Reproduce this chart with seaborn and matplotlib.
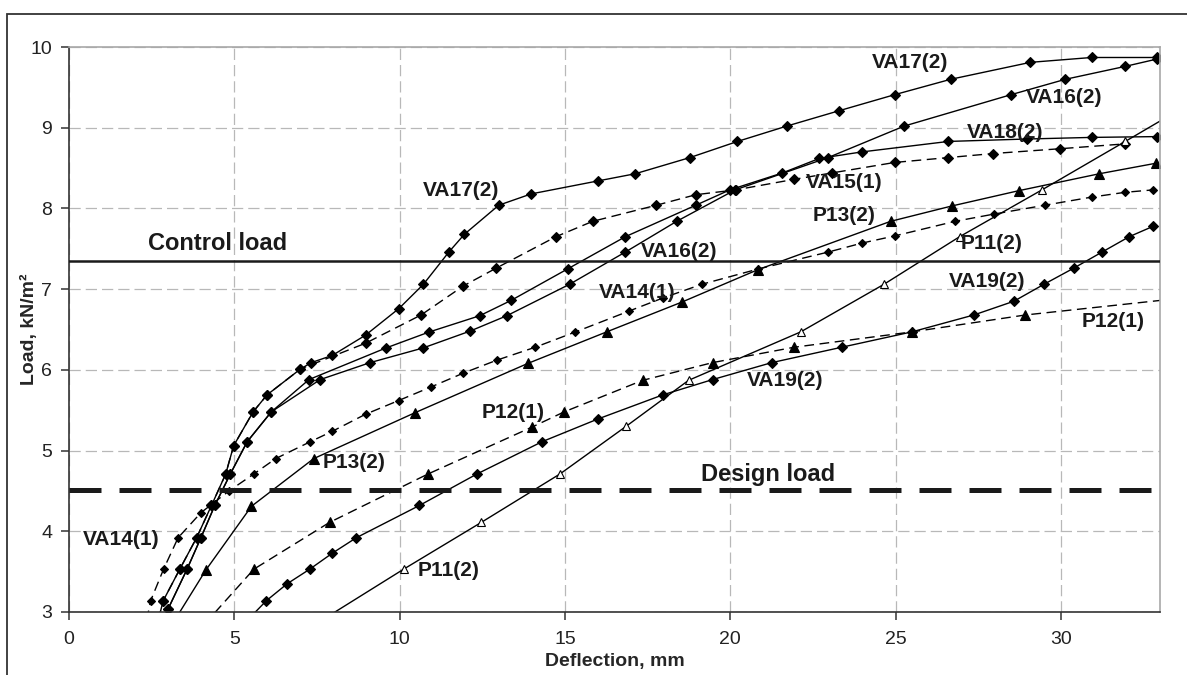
"""Load-deflection curves of the test panels (control / design load)"""
import matplotlib
matplotlib.use("Agg")
import matplotlib.pyplot as plt
from matplotlib.patches import Rectangle
import numpy as np
import seaborn as sns

OUT_FILE = "out.png"

# ---- data: deflection (mm) / load (kN/m2) ----
VA17_X = [2.7, 2.85, 3.35, 3.86, 4.31, 4.74, 4.98, 5.57, 5.99, 7.0, 7.33, 7.97, 8.97, 9.98,
          10.72, 11.49, 11.96, 13.0, 13.98, 15.99, 17.13, 18.78, 20.22, 21.71, 23.29, 24.98,
          26.67, 29.08, 30.93, 32.9]
VA17_Y = [2.9, 3.14, 3.53, 3.92, 4.32, 4.71, 5.06, 5.48, 5.69, 6.01, 6.09, 6.18, 6.43, 6.76,
          7.06, 7.46, 7.68, 8.04, 8.18, 8.34, 8.43, 8.63, 8.83, 9.02, 9.21, 9.41,
          9.60, 9.81, 9.87, 9.87]

VA15_X = [2.7, 2.85, 3.35, 3.86, 4.31, 4.74, 4.98, 5.57, 5.99, 7.0, 8.97, 10.65, 11.93, 12.92,
          14.73, 15.84, 17.77, 18.96, 20.17, 21.93, 23.08, 24.98, 26.6, 27.95, 29.99, 31.95]
VA15_Y = [2.9, 3.14, 3.53, 3.92, 4.32, 4.71, 5.06, 5.48, 5.69, 6.01, 6.33, 6.68, 7.04, 7.26,
          7.65, 7.84, 8.04, 8.17, 8.23, 8.36, 8.44, 8.57, 8.63, 8.68, 8.74, 8.80]

VA16_X = [2.8, 3.0, 3.57, 3.99, 4.41, 4.88, 5.39, 6.12, 7.6, 9.11, 10.7, 12.13, 13.24, 15.14,
          16.83, 18.38, 20.15, 22.96, 25.26, 28.5, 30.14, 31.95, 32.9]
VA16_Y = [2.9, 3.04, 3.53, 3.92, 4.32, 4.71, 5.11, 5.48, 5.88, 6.09, 6.27, 6.48, 6.67, 7.06,
          7.46, 7.84, 8.23, 8.63, 9.02, 9.41, 9.60, 9.76, 9.85]

VA18_X = [2.8, 3.0, 3.57, 3.99, 4.41, 4.88, 5.39, 6.12, 7.26, 9.58, 10.9, 12.42, 13.37, 15.08,
          16.83, 18.96, 19.99, 21.58, 22.7, 23.98, 26.6, 28.97, 30.93, 32.9]
VA18_Y = [2.9, 3.04, 3.53, 3.92, 4.32, 4.71, 5.11, 5.48, 5.88, 6.27, 6.47, 6.67, 6.86, 7.25,
          7.65, 8.04, 8.23, 8.44, 8.62, 8.70, 8.83, 8.86, 8.88, 8.89]

VA14_X = [2.35, 2.47, 2.86, 3.3, 3.99, 4.84, 5.59, 6.25, 7.3, 7.97, 8.97, 9.97, 10.96, 11.93,
          12.94, 14.1, 15.32, 16.95, 17.96, 19.14, 20.85, 22.97, 23.98, 24.98, 26.8, 27.98,
          29.52, 30.93, 31.95, 32.8]
VA14_Y = [2.9, 3.14, 3.53, 3.92, 4.23, 4.50, 4.71, 4.90, 5.11, 5.24, 5.45, 5.62, 5.79, 5.96,
          6.12, 6.28, 6.47, 6.73, 6.89, 7.06, 7.25, 7.46, 7.57, 7.66, 7.84, 7.93,
          8.04, 8.14, 8.20, 8.23]

P13_X = [3.2, 4.14, 5.52, 7.4, 10.47, 13.88, 16.26, 18.54, 20.83, 24.85, 26.7, 28.73, 31.17, 32.88]
P13_Y = [2.9, 3.52, 4.31, 4.90, 5.47, 6.08, 6.47, 6.84, 7.24, 7.84, 8.03, 8.22, 8.43, 8.56]

P12_X = [4.1, 5.59, 7.88, 10.86, 14.0, 14.98, 17.35, 19.47, 21.93, 25.49, 28.93, 33.0]
P12_Y = [2.85, 3.53, 4.11, 4.71, 5.29, 5.48, 5.87, 6.09, 6.28, 6.47, 6.68, 6.86]

P11_X = [7.85, 10.12, 12.47, 14.85, 16.85, 18.74, 22.13, 24.65, 26.94, 29.43, 31.95, 33.2]
P11_Y = [2.95, 3.53, 4.11, 4.71, 5.30, 5.87, 6.47, 7.06, 7.65, 8.23, 8.83, 9.13]

VA19_X = [5.4, 5.97, 6.6, 7.28, 7.97, 8.69, 10.6, 12.34, 14.31, 15.99, 17.96, 19.47, 21.26,
          23.37, 25.49, 27.37, 28.58, 29.49, 30.39, 31.25, 32.07, 32.8]
VA19_Y = [2.9, 3.14, 3.35, 3.53, 3.73, 3.92, 4.32, 4.71, 5.11, 5.39, 5.69, 5.88, 6.09,
          6.28, 6.47, 6.68, 6.85, 7.06, 7.26, 7.46, 7.65, 7.78]

CONTROL_LOAD = 7.35
DESIGN_LOAD = 4.51

X_TICKS = [0, 5, 10, 15, 20, 25, 30]
Y_TICKS = [3, 4, 5, 6, 7, 8, 9, 10]

# curve labels: text, x, y
CURVE_LABELS = [
    ("VA17(2)", 11.85, 8.22), ("VA17(2)", 25.44, 9.81), ("VA16(2)", 30.1, 9.38),
    ("VA18(2)", 28.33, 8.94), ("VA15(1)", 23.44, 8.32), ("P13(2)", 23.43, 7.91),
    ("P11(2)", 27.9, 7.57), ("VA19(2)", 27.76, 7.09), ("P12(1)", 31.59, 6.6),
    ("VA16(2)", 18.46, 7.47), ("VA14(1)", 17.19, 6.96), ("VA19(2)", 21.66, 5.87),
    ("P12(1)", 13.44, 5.47), ("P13(2)", 8.61, 4.85), ("VA14(1)", 1.57, 3.9),
    ("P11(2)", 11.48, 3.52),
]

# styles per curve: (x, y, linestyle, marker, markersize, facecolor)
DASHED = (0, (7, 4))
SERIES = [
    (VA17_X, VA17_Y, "-", "D", 5.2, "black"),
    (VA15_X, VA15_Y, DASHED, "D", 5.2, "black"),
    (VA16_X, VA16_Y, "-", "D", 5.2, "black"),
    (VA18_X, VA18_Y, "-", "D", 5.2, "black"),
    (VA14_X, VA14_Y, DASHED, "D", 4.0, "black"),
    (P13_X, P13_Y, "-", "^", 6.8, "black"),
    (P12_X, P12_Y, DASHED, "^", 6.8, "black"),
    (P11_X, P11_Y, "-", "^", 6.2, "white"),
    (VA19_X, VA19_Y, "-", "D", 5.2, "black"),
]

sns.set_theme(style="ticks")
plt.rcParams["font.family"] = ["Liberation Sans", "DejaVu Sans"]
plt.rcParams["text.color"] = "#1a1a1a"

fig = plt.figure(figsize=(11.87, 6.75), dpi=100)
ax = fig.add_axes([69 / 1187, 1 - 612 / 675, (1160 - 69) / 1187, (612 - 47) / 675])

# outer chart-area frame (runs off the right and bottom edge)
fig.patches.append(Rectangle((7 / 1187, -0.05), 2.0, 1 - 14 / 675 + 0.05,
                             transform=fig.transFigure, fill=False,
                             edgecolor="#333333", linewidth=1.3))

for xs, ys, ls, mk, ms, fc in SERIES:
    xa, ya = np.asarray(xs), np.asarray(ys)
    shown = list(np.where((ya >= 3.0) & (xa <= 32.95))[0])
    sns.lineplot(x=xs, y=ys, ax=ax, color="black", linewidth=1.0, linestyle=ls,
                 marker=mk, markersize=ms, markerfacecolor=fc, markeredgecolor="black",
                 markeredgewidth=0.8, markevery=shown, sort=False, estimator=None)

ax.axhline(CONTROL_LOAD, color="#1a1a1a", linewidth=1.8, zorder=3)
ax.axhline(DESIGN_LOAD, color="#1a1a1a", linewidth=3.6, linestyle=(0, (6.4, 3.6)), zorder=3)
ax.text(4.5, 7.57, "Control load", fontsize=17, fontweight="bold", ha="center", va="center")
ax.text(21.15, 4.70, "Design load", fontsize=17, fontweight="bold", ha="center", va="center")

for text, tx, ty in CURVE_LABELS:
    ax.text(tx, ty, text, fontsize=15, fontweight="bold", ha="center", va="center", zorder=4)

ax.set_xlim(0, 33)
ax.set_ylim(3, 10)
ax.set_xticks(X_TICKS)
ax.set_yticks(Y_TICKS)
ax.grid(True, color="#b8b8b8", linestyle=(0, (9, 4)), linewidth=0.9)
ax.set_axisbelow(True)
ax.tick_params(axis="both", labelsize=14, colors="#333333", labelcolor="#222222",
               length=6, width=1.1)
ax.tick_params(axis="x", pad=8)
ax.tick_params(axis="y", pad=6)

for side in ("left", "bottom"):
    ax.spines[side].set_color("#333333")
    ax.spines[side].set_linewidth(1.2)
for side in ("top", "right"):
    ax.spines[side].set_visible(True)
    ax.spines[side].set_color("#a8a8a8")
    ax.spines[side].set_linewidth(1.2)

ax.set_xlabel("Deflection, mm", fontsize=14, fontweight="bold")
ax.set_ylabel("Load, kN/m²", fontsize=14, fontweight="bold")
ax.xaxis.set_label_coords(0.5, -0.073)
ax.yaxis.set_label_coords(-0.028, 0.5)

fig.savefig(OUT_FILE, dpi=100)
plt.close(fig)
print(f"saved {OUT_FILE}")
